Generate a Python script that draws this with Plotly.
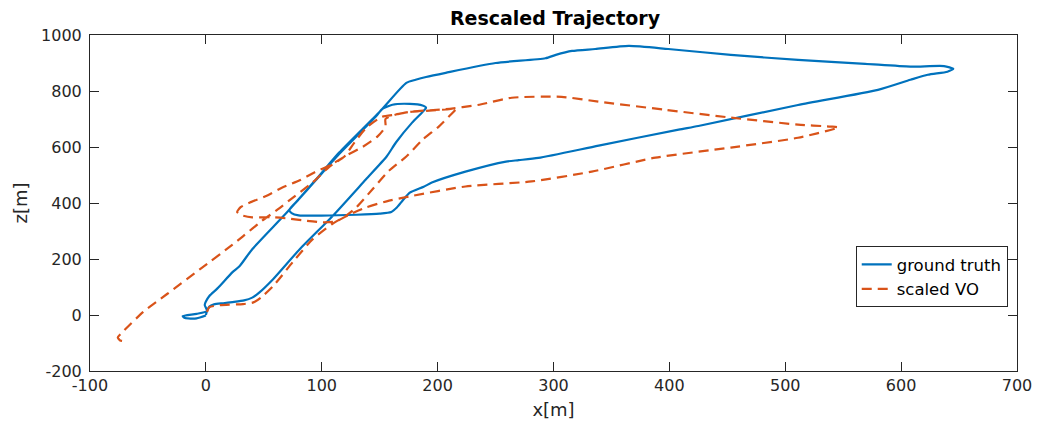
import plotly.graph_objects as go

# ---------------- data ----------------
gt_x = [0, 1, 3, 7, 15, 23, 33, 40, 46, 58, 81, 109, 138, 156, 164, 178, 187, 190, 187, 176, 161, 152, 148,
        140, 115, 95, 80, 72,
        74, 80, 100, 130, 150, 160, 165, 170, 176, 188, 195, 224, 259, 270, 287, 339, 408, 425, 511, 580, 608, 623, 640, 645,
        637, 608, 569, 511, 453, 399, 365, 336, 316, 302, 293, 250, 207, 190, 181, 173,
        150, 115, 95, 70, 40, 29, 23, 10, 3, 0, -1, 1, -8, -20, -18, -8, 0]
gt_z = [0, 14, 30, 38, 42, 46, 52, 62, 80, 128, 235, 352, 484, 566, 616, 687, 725, 740, 748, 754, 751, 735, 715,
        680, 575, 482, 412, 375,
        364, 356, 355, 358, 362, 368, 385, 410, 437, 458, 473, 512, 548, 553, 561, 605, 662, 675, 750, 804, 840, 858, 869, 879,
        889, 887, 897, 911, 929, 950, 961, 950, 943, 929, 917, 900, 865, 850, 840, 829,
        726, 580, 484, 367, 235, 174, 153, 95, 68, 48, 36, 14, 4, -4, -11, -12, -2]

vo_x = [1, 3, 12, 32, 41, 48, 58, 75, 92, 109, 121, 130, 144, 158, 173, 187, 201, 210, 216,
        207, 193, 178, 164, 155, 155, 148, 135.5, 121, 108, 94, 81, 66, 52, 38, 30, 27, 31, 40, 57, 70, 83.5, 101, 112,
        124, 138, 156, 175, 224, 281, 333, 388, 453, 511, 546,
        539, 511, 453, 396, 339, 307, 264, 236, 207, 178, 164, 152,
        138.5, 128, 119.6, 107, 92, 76.6, 62, 48, 32, 23, -5, -33.5, -54, -71, -76, -74, -69]
vo_z = [11, 28, 35, 39, 45, 64, 103, 189, 270, 325, 355, 385, 450, 515, 566, 626, 673, 710, 737,
        734, 730, 726, 716, 700, 673, 637, 601, 569, 537, 510, 481, 455, 425, 402, 385, 368, 356, 349, 349, 345, 338, 331, 334,
        359, 384, 406, 423, 459, 477, 512, 562, 598, 633, 670,
        673, 680, 705, 733, 762, 779, 776, 751, 735, 727, 716, 708,
        669, 615, 566, 531, 473, 424, 377, 335, 281, 251, 164, 75, 11, -57, -80, -91, -94]

x_ticks = [-100, 0, 100, 200, 300, 400, 500, 600, 700]
x_tick_labels = ["-100", "0", "100", "200", "300", "400", "500", "600", "700"]
z_ticks = [-200, 0, 200, 400, 600, 800, 1000]
z_tick_labels = ["-200", "0", "200", "400", "600", "800", "1000"]

# ---------------- figure ----------------
FONT = "DejaVu Sans"
AX = "#262626"

fig = go.Figure()
fig.add_trace(go.Scatter(x=gt_x, y=gt_z, mode="lines", name="ground truth",
                         line=dict(color="#0072BD", width=2.2, shape="spline", smoothing=0.6)))
fig.add_trace(go.Scatter(x=vo_x, y=vo_z, mode="lines", name="scaled VO",
                         line=dict(color="#D95319", width=2.2, dash="10px,6px", shape="spline", smoothing=0.6)))

axis_common = dict(showgrid=False, zeroline=False, showline=True, linecolor=AX, linewidth=1,
                   mirror="ticks", ticks="inside", ticklen=9, tickcolor=AX, tickwidth=1,
                   tickfont=dict(family=FONT, size=16, color=AX))

fig.update_layout(
    width=1044, height=429,
    margin=dict(l=90, r=24, t=35, b=57),
    paper_bgcolor="white", plot_bgcolor="white",
    title=dict(text="<b>Rescaled Trajectory</b>", x=555 / 1044, xanchor="center",
               y=1 - 18 / 429, yanchor="middle", font=dict(family=FONT, size=19, color="black")),
    xaxis=dict(range=[-100, 700], tickvals=x_ticks, ticktext=x_tick_labels,
               title=dict(text="x[m]", font=dict(family=FONT, size=18, color=AX), standoff=9),
               **axis_common),
    yaxis=dict(range=[-200, 1000], tickvals=z_ticks, ticktext=z_tick_labels,
               title=dict(text="z[m]", font=dict(family=FONT, size=18, color=AX), standoff=8),
               ticklabelstandoff=4,
               **axis_common),
    legend=dict(x=0.99, xanchor="right", y=0.19, yanchor="bottom",
                bgcolor="white", bordercolor=AX, borderwidth=1,
                font=dict(family=FONT, size=16.5, color="black"), tracegroupgap=0),
    showlegend=True,
)

fig.write_html("out.html")
